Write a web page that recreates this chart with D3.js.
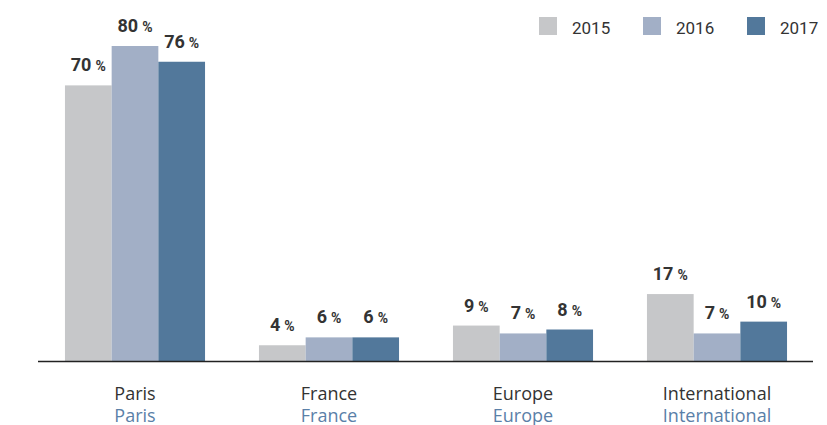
<!DOCTYPE html>
<html>
<head>
<meta charset="utf-8">
<script src="https://cdn.jsdelivr.net/npm/d3@7"></script>
<style>
  body { margin: 0; background: #fff; }
  svg { display: block; }
</style>
</head>
<body>
<svg id="chart" width="827" height="425"></svg>
<script>
// Données
const categories = ['Paris', 'France', 'Europe', 'International'];
const categoriesSub = ['Paris', 'France', 'Europe', 'International'];
const years = ['2015', '2016', '2017'];
const values2015 = [70, 4, 9, 17];
const values2016 = [80, 6, 7, 7];
const values2017 = [76, 6, 8, 10];

const colors = ['#c6c7c9', '#a2afc6', '#52789b'];
const series = [values2015, values2016, values2017];

const svg = d3.select('#chart');
const baseline = 361;

const x = d3.scaleBand()
  .domain(categories)
  .range([38, 814])
  .paddingInner(0.278)
  .paddingOuter(0.139);

const xInner = d3.scaleBand()
  .domain(years)
  .range([0, x.bandwidth()]);

const y = d3.scaleLinear()
  .domain([0, 80])
  .range([baseline, 46]);

// Barres
const groups = svg.selectAll('g.group')
  .data(categories)
  .join('g')
  .attr('class', 'group')
  .attr('transform', d => `translate(${x(d)},0)`);

years.forEach((yr, si) => {
  groups.append('rect')
    .attr('x', xInner(yr))
    .attr('width', xInner.bandwidth())
    .attr('y', (d, i) => y(series[si][i]))
    .attr('height', (d, i) => baseline - y(series[si][i]))
    .attr('fill', colors[si]);

  const lbl = groups.append('text')
    .attr('x', xInner(yr) + xInner.bandwidth() / 2)
    .attr('y', (d, i) => y(series[si][i]) - 14)
    .attr('text-anchor', 'middle')
    .attr('font-family', 'Roboto, sans-serif')
    .attr('font-weight', 'bold')
    .attr('font-size', '18px')
    .attr('fill', '#333');
  lbl.append('tspan').text((d, i) => series[si][i]);
  lbl.append('tspan').attr('font-size', '14px').attr('dx', 4).text('%');
});

// Axe
svg.append('line')
  .attr('x1', 38).attr('x2', 813)
  .attr('y1', baseline + 0.5).attr('y2', baseline + 0.5)
  .attr('stroke', '#222')
  .attr('stroke-width', 1.3);

// Libellés catégories
svg.selectAll('text.cat')
  .data(categories)
  .join('text')
  .attr('class', 'cat')
  .attr('x', d => x(d) + x.bandwidth() / 2)
  .attr('y', 400)
  .attr('text-anchor', 'middle')
  .attr('font-family', 'Open Sans, sans-serif')
  .attr('font-size', '18px')
  .attr('fill', '#333')
  .text(d => d);

svg.selectAll('text.catsub')
  .data(categoriesSub)
  .join('text')
  .attr('class', 'catsub')
  .attr('x', (d, i) => x(categories[i]) + x.bandwidth() / 2)
  .attr('y', 422)
  .attr('text-anchor', 'middle')
  .attr('font-family', 'Open Sans, sans-serif')
  .attr('font-size', '18px')
  .attr('fill', '#5a80a8')
  .text(d => d);

// Légende
const legendX = [539, 643, 747];
const legend = svg.selectAll('g.legend')
  .data(years)
  .join('g')
  .attr('class', 'legend')
  .attr('transform', (d, i) => `translate(${legendX[i]},17)`);

legend.append('rect')
  .attr('width', 18).attr('height', 18)
  .attr('fill', (d, i) => colors[i]);

legend.append('text')
  .attr('x', 33)
  .attr('y', 17)
  .attr('font-family', 'Roboto, sans-serif')
  .attr('font-size', '17px')
  .attr('fill', '#333')
  .text(d => d);
</script>
</body>
</html>
